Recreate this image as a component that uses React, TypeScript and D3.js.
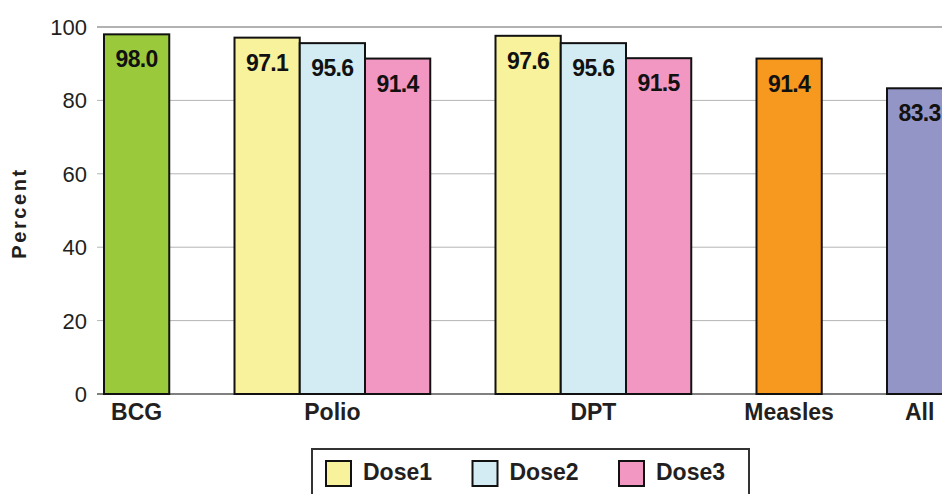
import { scaleBand, scaleLinear } from "d3";

// immunization coverage, percent
const categories = ["BCG", "Polio", "DPT", "Measles", "All"];
const doseNames = ["Dose1", "Dose2", "Dose3"];
const bcgValues = [98.0];
const polioValues = [97.1, 95.6, 91.4];
const dptValues = [97.6, 95.6, 91.5];
const measlesValues = [91.4];
const allValues = [83.3];
const yTicks = [0, 20, 40, 60, 80, 100];

const doseColors = ["#f7f29b", "#d3ecf3", "#f297c1"];
const singleColors: Record<string, string> = {
  BCG: "#9aca3c",
  Measles: "#f7981f",
  All: "#9495c7",
};

const valuesByCategory = [bcgValues, polioValues, dptValues, measlesValues, allValues];

type Bar = { category: string; dose: number; value: number; slot: number; color: string };

// each category takes one slot per bar, then one empty slot
const bars: Bar[] = [];
const groups: { category: string; first: number; last: number }[] = [];
let slot = 0;
categories.forEach((c, i) => {
  const vals = valuesByCategory[i];
  const first = slot;
  vals.forEach((v, j) => {
    bars.push({
      category: c,
      dose: j,
      value: v,
      slot,
      color: vals.length > 1 ? doseColors[j] : singleColors[c],
    });
    slot++;
  });
  groups.push({ category: c, first, last: slot - 1 });
  slot++;
});

export default function App() {
  const width = 942;
  const height = 494;
  const left = 104;
  const slotW = 65.25;

  const x = scaleBand<number>()
    .domain(Array.from({ length: slot }, (_, i) => i))
    .range([left, left + slot * slotW])
    .padding(0);
  const y = scaleLinear().domain([0, 100]).range([394, 27]);

  const ink = "#231f20";
  const font = "'Liberation Sans', Arial, sans-serif";

  return (
    <svg
      width={width}
      height={height}
      style={{ position: "absolute", left: 0, top: 0, background: "#fff" }}
      fontFamily={font}
    >
      {/* grid */}
      {yTicks.map((t) => (
        <g key={t}>
          <line
            x1={97}
            x2={width}
            y1={y(t)}
            y2={y(t)}
            stroke={t === 0 ? "#808080" : t === 100 ? "#999" : "#b4b4b4"}
            strokeWidth={t === 0 ? 2 : t === 100 ? 1.5 : 1}
          />
          <text
            x={87}
            y={y(t)}
            dy="0.36em"
            textAnchor="end"
            fontSize={22}
            fill={ink}
          >
            {t}
          </text>
        </g>
      ))}

      <text
        transform={`translate(26,${213}) rotate(-90)`}
        textAnchor="middle"
        fontSize={20}
        fontWeight="bold"
        letterSpacing={2.6}
        fill={ink}
      >
        Percent
      </text>

      {/* bars */}
      {bars.map((b, i) => (
        <g key={i}>
          <rect
            x={x(b.slot)}
            y={y(b.value)}
            width={x.bandwidth()}
            height={y(0) - y(b.value)}
            fill={b.color}
            stroke="#111"
            strokeWidth={2}
          />
          <text
            x={(x(b.slot) ?? 0) + x.bandwidth() / 2}
            y={y(b.value) + 33}
            textAnchor="middle"
            fontSize={23}
            fontWeight="bold"
            letterSpacing={-0.6}
            fill="#111"
          >
            {b.value.toFixed(1)}
          </text>
        </g>
      ))}

      {/* category labels */}
      {groups.map((g) => (
        <text
          key={g.category}
          x={((x(g.first) ?? 0) + (x(g.last) ?? 0) + x.bandwidth()) / 2}
          y={420}
          textAnchor="middle"
          fontSize={23}
          fontWeight="bold"
          fill={ink}
        >
          {g.category}
        </text>
      ))}

      {/* legend */}
      <rect x={312} y={449} width={437} height={60} fill="#fff" stroke="#333" strokeWidth={2} />
      {doseNames.map((d, i) => {
        const lx = 326 + i * 146.5;
        return (
          <g key={d}>
            <rect x={lx} y={461} width={25} height={25} fill={doseColors[i]} stroke="#111" strokeWidth={2} />
            <text x={lx + 37} y={480} fontSize={23} fontWeight="bold" fill={ink}>
              {d}
            </text>
          </g>
        );
      })}
    </svg>
  );
}
